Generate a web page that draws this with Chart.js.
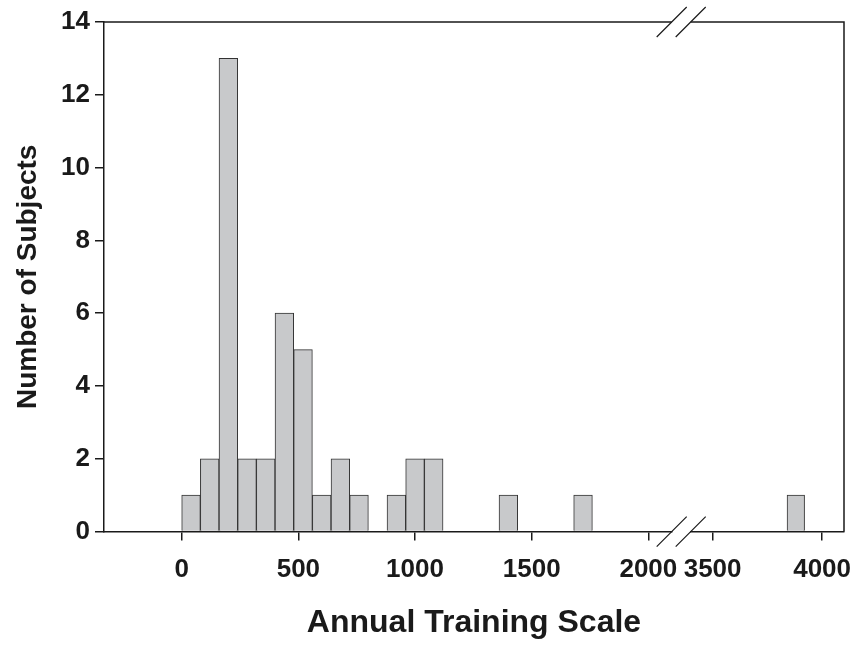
<!DOCTYPE html>
<html>
<head>
<meta charset="utf-8">
<script src="https://cdn.jsdelivr.net/npm/chart.js@4"></script>
<style>
  body { margin: 0; background: #fff; }
  #wrap { width: 861px; height: 650px; }
</style>
</head>
<body>
<div id="wrap"><canvas id="histChart"></canvas></div>
<script>
// histogram bins (width 80), centre of each bin
const lowBinCentres = [40, 120, 200, 280, 360, 440, 520, 600, 680, 760, 840, 920, 1000, 1080,
                       1160, 1240, 1320, 1400, 1480, 1560, 1640, 1720];
const lowCounts     = [1, 2, 13, 2, 2, 6, 5, 1, 2, 1, 0, 1, 2, 2,
                       0, 0, 0, 1, 0, 0, 0, 1];
// after the axis break
const highBinCentres = [3800, 3880, 3960];
const highCounts     = [0, 1, 0];

const lowTicks  = [0, 500, 1000, 1500, 2000];
const highTicks = [3500, 4000];
const yTicks    = [0, 2, 4, 6, 8, 10, 12, 14];

const ink = '#1a1a1a';
const tickFont = { family: 'Liberation Sans, Arial, sans-serif', size: 26, weight: 'bold' };

const toPoints = (xs, ys) => xs.map((x, i) => ({ x: x, y: ys[i] }));

const barStyle = {
    backgroundColor: '#c8c9cb',
    borderColor: '#333',
    borderWidth: 1,
    barPercentage: 1,
    categoryPercentage: 1,
    grouped: false
};

const fitBottom = s => {
    s.height = 72;
    s.paddingLeft = 0;
    s.paddingRight = 0;
};

const xAxis = (min, max, ticks, weight, stackWeight) => ({
    type: 'linear',
    position: 'bottom',
    stack: 'bottom',
    stackWeight: stackWeight,
    weight: weight,
    offset: false,
    min: min,
    max: max,
    afterBuildTicks: s => { s.ticks = ticks.map(v => ({ value: v })); },
    afterFit: fitBottom,
    border: { display: true, color: ink, width: 1.5 },
    grid: { display: true, offset: false, drawOnChartArea: false, tickLength: 9, color: ink, lineWidth: 1.5 },
    ticks: {
        autoSkip: false,
        maxRotation: 0,
        padding: 14,
        color: ink,
        font: tickFont,
        callback: v => String(v)
    }
});

// frame (top / right) and the // break marks
const framePlugin = {
    id: 'frame',
    afterDraw(chart) {
        const { ctx, chartArea } = chart;
        const xa = chart.scales.x, xb = chart.scales.x2;
        const gapL = xa.right, gapR = xb.left;
        ctx.save();
        ctx.strokeStyle = ink;
        ctx.lineWidth = 1.5;
        ctx.beginPath();
        ctx.moveTo(chartArea.left, chartArea.top);
        ctx.lineTo(gapL, chartArea.top);
        ctx.moveTo(gapR, chartArea.top);
        ctx.lineTo(chartArea.right, chartArea.top);
        ctx.lineTo(chartArea.right, chartArea.bottom);
        ctx.stroke();
        ctx.lineWidth = 1.2;
        ctx.beginPath();
        [chartArea.top, chartArea.bottom].forEach(y => {
            [gapL, gapR].forEach(x => {
                ctx.moveTo(x - 15, y + 15);
                ctx.lineTo(x + 15, y - 15);
            });
        });
        ctx.stroke();
        ctx.restore();
    }
};

new Chart(document.getElementById('histChart'), {
    type: 'bar',
    data: {
        datasets: [
            Object.assign({ label: 'low', data: toPoints(lowBinCentres, lowCounts), xAxisID: 'x', yAxisID: 'y' }, barStyle),
            Object.assign({ label: 'high', data: toPoints(highBinCentres, highCounts), xAxisID: 'x2', yAxisID: 'y' }, barStyle)
        ]
    },
    options: {
        responsive: true,
        maintainAspectRatio: false,
        animation: false,
        layout: { padding: { top: 22, right: 17, left: 0, bottom: 0 } },
        plugins: {
            legend: { display: false },
            tooltip: { enabled: false },
            title: {
                display: true,
                text: 'Annual Training Scale',
                position: 'bottom',
                fullSize: false,
                color: ink,
                font: { family: 'Liberation Sans, Arial, sans-serif', size: 32, weight: 'bold' },
                padding: { top: 0, bottom: 8 }
            }
        },
        scales: {
            x: xAxis(-333, 2100, lowTicks, 1, 567.7),
            xgap: {
                type: 'linear',
                position: 'bottom',
                stack: 'bottom',
                stackWeight: 19,
                weight: 2,
                min: 0,
                max: 1,
                afterFit: fitBottom,
                border: { display: false },
                grid: { display: false },
                ticks: { display: false }
            },
            x2: xAxis(3400, 4100, highTicks, 3, 153.3),
            y: {
                type: 'linear',
                min: 0,
                max: 14,
                afterBuildTicks: s => { s.ticks = yTicks.map(v => ({ value: v })); },
                afterFit: s => { s.width = 104; },
                border: { display: true, color: ink, width: 1.5 },
                grid: { display: true, drawOnChartArea: false, tickLength: 9, color: ink, lineWidth: 1.5 },
                ticks: { padding: 5, color: ink, font: tickFont },
                title: {
                    display: true,
                    text: 'Number of Subjects',
                    color: ink,
                    font: { family: 'Liberation Sans, Arial, sans-serif', size: 28, weight: 'bold' },
                    padding: { top: 11, bottom: 0 }
                }
            }
        }
    },
    plugins: [framePlugin]
});
</script>
</body>
</html>
